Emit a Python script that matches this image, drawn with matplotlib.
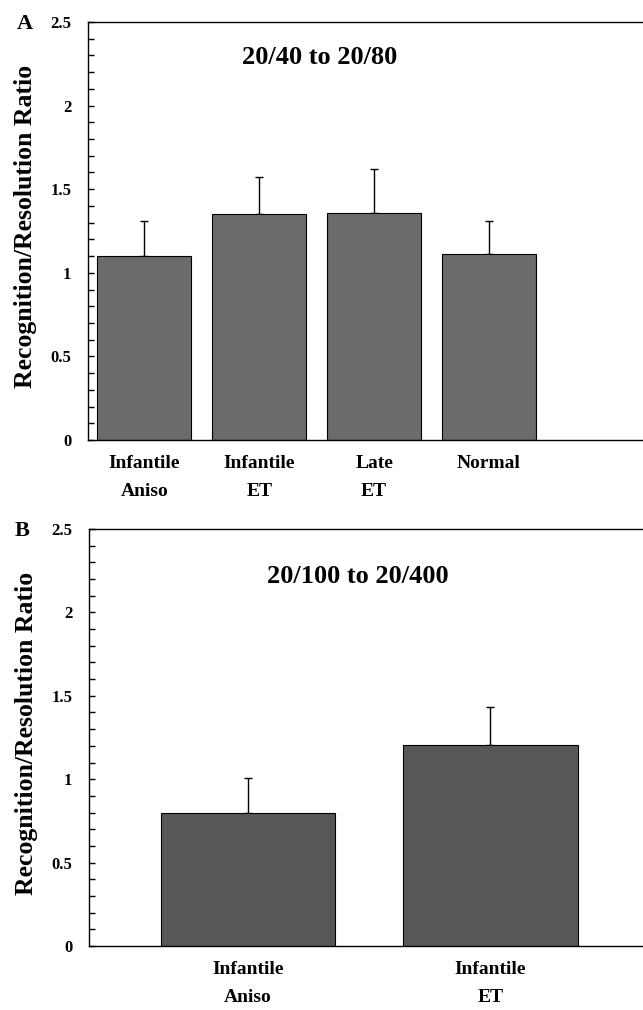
import matplotlib
matplotlib.use('Agg')
import matplotlib.pyplot as plt

# panel A: 20/40 to 20/80
groups_a = ['Infantile\nAniso', 'Infantile\nET', 'Late\nET', 'Normal']
means_a = [1.10, 1.35, 1.355, 1.11]
err_a = [0.21, 0.22, 0.265, 0.20]

# panel B: 20/100 to 20/400
groups_b = ['Infantile\nAniso', 'Infantile\nET']
means_b = [0.80, 1.205]
err_b = [0.21, 0.23]

yticks = [0, 0.5, 1, 1.5, 2, 2.5]
ytick_labels = ['0', '0.5', '1', '1.5', '2', '2.5']

plt.rcParams['font.family'] = ['Liberation Serif', 'DejaVu Serif']
plt.rcParams['font.weight'] = 'bold'

fig = plt.figure(figsize=(6.43, 10.10), dpi=100)


def panel(ax, groups, means, errs, width, xlim, color, title, title_xy, letter_xy, letter):
    x = list(range(len(groups)))
    ax.bar(x, means, width=width, color=color, edgecolor='black', linewidth=0.8, zorder=2)
    ax.errorbar(x, means, yerr=[[0] * len(errs), errs], fmt='none', ecolor='black',
                elinewidth=1, capsize=3, capthick=1, zorder=1)
    ax.set_xlim(*xlim)
    ax.set_ylim(0, 2.5)
    ax.set_yticks(yticks)
    ax.set_yticklabels(ytick_labels, fontsize=12, fontweight='bold')
    ax.set_yticks([i / 10 for i in range(26)], minor=True)
    ax.tick_params(axis='y', which='both', direction='in', length=4, width=1, pad=12)
    ax.set_xticks(x)
    ax.set_xticklabels(groups, fontsize=14, fontweight='bold', linespacing=1.8)
    ax.tick_params(axis='x', length=0, pad=11)
    ax.spines['right'].set_visible(False)
    for s in ['left', 'top', 'bottom']:
        ax.spines[s].set_linewidth(1)
    ax.set_ylabel('Recognition/Resolution Ratio', fontsize=18.5, fontweight='bold')
    ax.yaxis.set_label_coords(-0.092, 0.51)
    ax.text(title_xy[0], title_xy[1], title, transform=ax.transAxes, ha='center', va='center',
            fontsize=19, fontweight='bold')
    ax.text(letter_xy[0], letter_xy[1], letter, transform=ax.transAxes, ha='center', va='center',
            fontsize=16, fontweight='bold')


ax1 = fig.add_axes([88 / 643, 1 - 440 / 1010, (643 - 88) / 643, 418 / 1010])
panel(ax1, groups_a, means_a, err_a, 0.82, (-0.49, 4.34), '#6b6b6b',
      '20/40 to 20/80', ((320 - 88) / 555, 0.915), ((25 - 88) / 555, 0.995), 'A')

ax2 = fig.add_axes([89 / 643, 1 - 946 / 1010, (643 - 89) / 643, 417 / 1010])
panel(ax2, groups_b, means_b, err_b, 0.72, (-0.657, 1.63), '#575757',
      '20/100 to 20/400', ((358 - 89) / 554, 0.887), ((22 - 89) / 554, 0.995), 'B')

fig.savefig('out.png', dpi=100)
